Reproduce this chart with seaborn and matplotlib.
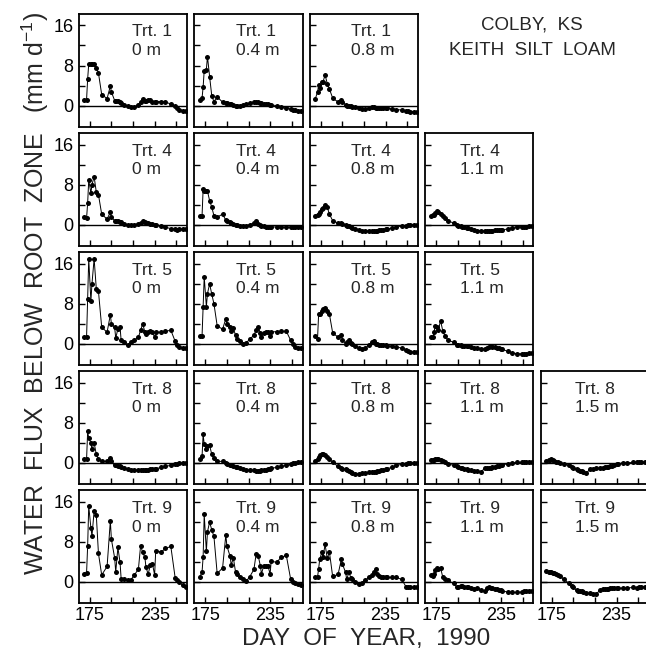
import matplotlib
matplotlib.use("Agg")
import matplotlib.pyplot as plt
import numpy as np
import pandas as pd
import seaborn as sns

# sampling days shared by all panels
DAY = [170, 172, 173, 174, 176, 177, 179, 181, 183, 186,
       191, 194, 195, 198, 199, 201, 203, 204, 207, 210,
       213, 216, 220, 222, 224, 226, 227, 229, 231, 233,
       235, 236, 241, 245, 250, 254, 256, 258, 261, 264]

# water flux (mm/d)
TRT1_0M = [1.2, 1.2, 5.3, 8.3, 8.3, 8.3, 8.3, 7.6, 6.5, 2.2,
           1.4, 3.9, 2.7, 1.0, 1.0, 0.9, 0.7, 0.5, 0.1, -0.1,
           -0.2, -0.3, 0.2, 0.7, 1.4, 1.0, 1.0, 1.2, 1.2, 0.8,
           0.8, 0.8, 0.8, 0.7, 0.3, -0.1, -0.5, -0.8, -1.0, -1.0]
TRT1_04M = [1.2, 1.5, 3.7, 7.0, 7.2, 9.8, 5.8, 1.9, 0.8, 1.7,
            0.7, 0.5, 0.5, 0.3, 0.3, 0.2, 0.0, -0.1, 0.0, 0.1,
            0.3, 0.5, 0.7, 0.8, 0.7, 0.6, 0.5, 0.4, 0.3, 0.3,
            0.2, 0.1, 0.0, -0.2, -0.4, -0.6, -0.8, -0.9, -1.0, -1.0]
TRT1_08M = [1.4, 2.7, 4.1, 3.5, 4.7, 4.7, 6.1, 4.4, 3.3, 1.5,
            0.7, 1.2, 0.8, 0.1, 0.0, -0.1, -0.1, -0.2, -0.3, -0.5,
            -0.6, -0.6, -0.5, -0.3, -0.3, -0.4, -0.5, -0.5, -0.5, -0.5,
            -0.5, -0.5, -0.6, -0.8, -0.9, -1.0, -1.1, -1.2, -1.2, -1.2]

TRT4_0M = [1.5, 1.3, 4.3, 8.9, 6.3, 8.0, 9.6, 6.5, 6.0, 2.1,
           1.1, 2.5, 1.5, 0.8, 0.8, 0.7, 0.6, 0.5, 0.2, 0.0,
           -0.1, 0.0, 0.2, 0.4, 0.7, 0.5, 0.4, 0.3, 0.2, 0.1,
           0.0, -0.1, -0.2, -0.5, -0.8, -0.9, -1.0, -0.9, -0.9, -0.8]
TRT4_04M = [1.8, 1.8, 7.1, 6.8, 6.7, 6.7, 4.8, 3.5, 1.8, 1.5,
            2.1, 0.9, 0.7, 0.5, 0.4, 0.2, 0.0, -0.1, -0.2, -0.2,
            -0.2, 0.0, 0.3, 0.7, 0.2, 0.0, -0.2, -0.3, -0.4, -0.4,
            -0.4, -0.4, -0.5, -0.5, -0.5, -0.5, -0.5, -0.5, -0.5, -0.5]
TRT4_08M = [1.8, 2.0, 2.1, 2.5, 3.1, 3.3, 4.0, 3.5, 2.1, 0.8,
            0.3, 0.3, 0.2, 0.0, -0.2, -0.3, -0.5, -0.6, -0.8, -1.0,
            -1.2, -1.2, -1.3, -1.3, -1.2, -1.2, -1.2, -1.1, -1.0, -1.0,
            -0.9, -0.9, -0.7, -0.5, -0.3, -0.2, -0.1, 0.0, 0.0, 0.0]
TRT4_11M = [1.8, 1.9, 2.0, 2.3, 2.7, 2.5, 2.1, 1.7, 1.3, 0.8,
            0.3, 0.0, -0.2, -0.3, -0.4, -0.5, -0.6, -0.7, -0.8, -1.0,
            -1.2, -1.2, -1.3, -1.3, -1.2, -1.2, -1.2, -1.1, -1.1, -1.1,
            -1.0, -1.0, -0.9, -0.6, -0.4, -0.4, -0.4, -0.4, -0.3, -0.3]

TRT5_0M = [1.3, 1.3, 9.0, 17.0, 8.5, 12.0, 17.0, 11.0, 10.5, 3.3,
           2.3, 5.8, 4.0, 3.3, 1.1, 3.0, 3.3, 0.7, 0.3, -0.2,
           0.3, 0.7, 1.3, 2.7, 4.0, 2.3, 2.0, 2.3, 2.5, 2.3,
           1.3, 2.3, 2.3, 2.5, 2.7, 0.5, -0.3, -0.7, -0.8, -0.8]
TRT5_04M = [1.6, 1.6, 7.4, 13.4, 7.4, 10.0, 12.0, 9.9, 8.0, 3.6,
            2.9, 5.0, 3.9, 3.4, 2.5, 3.1, 1.7, 0.9, 0.5, -0.1,
            0.2, 0.9, 1.7, 2.7, 3.4, 2.1, 1.4, 2.1, 2.3, 2.3,
            1.5, 2.4, 2.4, 2.5, 2.5, 0.7, -0.1, -0.6, -0.8, -0.9]
TRT5_08M = [1.6, 1.0, 5.9, 6.0, 6.5, 6.9, 7.2, 6.5, 5.9, 2.2,
            1.3, 1.8, 0.8, 0.0, 0.3, 0.8, 0.2, 0.0, -0.4, -0.8,
            -1.0, -0.8, -0.3, 0.3, 0.5, 0.0, -0.1, -0.2, -0.2, -0.3,
            -0.3, -0.4, -0.5, -0.6, -0.9, -1.2, -1.5, -1.6, -1.7, -1.7]
TRT5_11M = [1.3, 1.3, 2.3, 3.6, 3.3, 2.8, 4.6, 2.6, 1.6, 0.7,
            0.3, -0.3, -0.3, -0.3, -0.4, -0.4, -0.5, -0.5, -0.6, -0.8,
            -0.8, -1.0, -1.1, -0.9, -0.7, -0.5, -0.6, -0.7, -0.8, -0.9,
            -1.0, -1.1, -1.5, -1.8, -2.0, -2.0, -2.0, -2.0, -1.9, -1.9]

TRT8_0M = [0.7, 0.7, 6.3, 5.0, 4.0, 2.7, 4.0, 1.7, 0.8, 0.3,
           0.3, 0.9, 0.3, -0.5, -0.5, -0.7, -0.7, -0.8, -1.1, -1.3,
           -1.5, -1.5, -1.5, -1.4, -1.4, -1.4, -1.4, -1.4, -1.3, -1.3,
           -1.2, -1.2, -0.9, -0.7, -0.5, -0.3, -0.2, -0.1, 0.0, 0.0]
TRT8_04M = [0.7, 1.3, 5.7, 3.7, 2.7, 3.3, 3.5, 1.7, 0.9, 0.3,
            0.3, 0.0, -0.2, -0.4, -0.5, -0.6, -0.8, -0.9, -1.1, -1.3,
            -1.5, -1.5, -1.5, -1.6, -1.6, -1.6, -1.5, -1.5, -1.4, -1.3,
            -1.2, -1.1, -0.9, -0.7, -0.5, -0.3, -0.1, 0.0, 0.1, 0.2]
TRT8_08M = [0.3, 0.8, 1.2, 1.6, 1.8, 1.7, 1.6, 1.2, 0.8, 0.1,
            -0.7, -1.1, -1.2, -1.3, -1.5, -1.6, -1.8, -2.0, -2.2, -2.2,
            -2.1, -2.0, -1.9, -1.9, -1.8, -1.8, -1.7, -1.6, -1.5, -1.4,
            -1.3, -1.2, -0.9, -0.5, -0.3, -0.2, -0.1, -0.1, 0.0, 0.0]
TRT8_11M = [0.5, 0.5, 0.6, 0.8, 0.8, 0.7, 0.6, 0.3, 0.1, -0.2,
            -0.5, -0.7, -0.8, -1.0, -1.0, -1.2, -1.3, -1.4, -1.5, -1.6,
            -1.7, -1.8, -1.1, -1.1, -1.0, -1.0, -0.9, -0.8, -0.7, -0.6,
            -0.5, -0.4, -0.2, 0.0, 0.1, 0.1, 0.1, 0.1, 0.1, 0.1]
TRT8_15M = [0.3, 0.5, 0.6, 0.8, 0.6, 0.4, 0.2, 0.1, 0.0, -0.2,
            -0.5, -0.8, -1.0, -1.3, -1.5, -1.6, -1.7, -1.8, -2.1, -1.3,
            -1.2, -1.1, -1.1, -1.0, -0.9, -0.9, -0.8, -0.7, -0.6, -0.5,
            -0.3, -0.2, 0.0, 0.0, 0.1, 0.1, 0.1, 0.1, 0.1, 0.1]

TRT9_0M = [1.6, 1.8, 7.2, 15.2, 10.8, 9.2, 14.2, 13.4, 5.7, 1.4,
           3.1, 12.2, 8.5, 4.8, 2.0, 6.9, 3.9, 0.65, 0.5, 0.4,
           0.45, 1.3, 2.6, 7.2, 5.9, 4.9, 2.9, 1.6, 3.3, 3.6,
           1.4, 6.2, 6.0, 6.7, 7.1, 0.85, 0.3, -0.1, -0.65, -1.0]
TRT9_04M = [1.05, 2.0, 5.0, 13.5, 6.1, 10.0, 12.0, 10.4, 9.1, 1.7,
            2.8, 9.4, 7.2, 5.1, 3.4, 4.8, 2.0, 1.5, 1.0, 0.5,
            0.2, 1.0, 2.5, 5.5, 5.2, 3.2, 1.6, 3.2, 3.2, 3.2,
            1.6, 4.2, 3.9, 4.9, 5.3, 0.6, -0.1, -0.3, -0.5, -0.6]
TRT9_08M = [1.0, 1.0, 2.6, 4.5, 6.0, 4.9, 7.5, 4.7, 6.0, 1.1,
            1.5, 4.5, 3.6, 1.9, 0.5, 1.9, 0.8, 0.5, 0.0, -0.5,
            -0.2, 0.3, 1.0, 1.3, 1.9, 2.6, 1.6, 1.2, 1.0, 0.9,
            0.9, 0.9, 0.9, 0.9, 0.5, -1.0, -1.1, -1.1, -1.1, -1.1]
TRT9_11M = [1.3, 1.1, 1.6, 2.4, 2.8, 2.6, 2.8, 1.0, 0.6, 0.3,
            -0.3, -1.0, -1.0, -0.8, -0.9, -1.1, -1.1, -1.1, -1.2, -1.5,
            -1.2, -1.6, -1.9, -1.3, -1.1, -1.2, -1.3, -1.4, -1.5, -1.6,
            -1.7, -1.8, -2.0, -2.1, -2.1, -2.0, -1.9, -1.9, -1.9, -1.9]
TRT9_15M = [2.1, 2.0, 1.9, 1.9, 1.8, 1.7, 1.5, 1.3, 1.1, 0.6,
            -0.3, -0.9, -1.1, -1.7, -1.9, -1.9, -1.9, -2.1, -2.3, -2.3,
            -2.5, -2.4, -1.6, -1.5, -1.5, -1.4, -1.4, -1.3, -1.2, -1.2,
            -1.3, -1.3, -1.2, -1.2, -1.1, -1.3, -1.1, -1.0, -1.0, -0.9]

TREATMENTS = ["Trt. 1", "Trt. 4", "Trt. 5", "Trt. 8", "Trt. 9"]
DEPTHS = ["0 m", "0.4 m", "0.8 m", "1.1 m", "1.5 m"]
X_TICKS = [175, 195, 215, 235, 255]
X_TICK_LABELS = ["175", "", "", "235", ""]
Y_TICKS = [0, 4, 8, 12, 16]
Y_TICK_LABELS = ["0", "", "8", "", "16"]

PANELS = {
    (0, 0): TRT1_0M, (0, 1): TRT1_04M, (0, 2): TRT1_08M,
    (1, 0): TRT4_0M, (1, 1): TRT4_04M, (1, 2): TRT4_08M, (1, 3): TRT4_11M,
    (2, 0): TRT5_0M, (2, 1): TRT5_04M, (2, 2): TRT5_08M, (2, 3): TRT5_11M,
    (3, 0): TRT8_0M, (3, 1): TRT8_04M, (3, 2): TRT8_08M, (3, 3): TRT8_11M, (3, 4): TRT8_15M,
    (4, 0): TRT9_0M, (4, 1): TRT9_04M, (4, 2): TRT9_08M, (4, 3): TRT9_11M, (4, 4): TRT9_15M,
}

rows = []
for (r, c), vals in PANELS.items():
    for d, v in zip(DAY, vals):
        rows.append({"row": r, "col": c, "day": d, "flux": v})
df = pd.DataFrame(rows)

sns.set_theme(style="ticks")
plt.rcParams["font.family"] = ["Liberation Sans", "DejaVu Sans"]

# where the treatment label starts inside each column
LABEL_X = [0.49, 0.38, 0.377, 0.324, 0.315]

fig = plt.figure(figsize=(6.46, 6.5), dpi=100)
gs = fig.add_gridspec(5, 5, left=0.1223, right=1.0046, top=0.9785, bottom=0.0723,
                      wspace=0.069, hspace=0.058)

for (r, c), _ in PANELS.items():
    ax = fig.add_subplot(gs[r, c])
    sub = df[(df["row"] == r) & (df["col"] == c)]
    ax.axhline(0, color="black", lw=1.0, zorder=1)
    sns.lineplot(data=sub, x="day", y="flux", ax=ax, color="black", lw=0.7,
                 marker="o", markersize=3.6, markeredgewidth=0, errorbar=None,
                 zorder=2)
    ax.set_xlim(165, 265)
    ax.set_ylim(-4.2, 18.3)
    ax.set_xlabel("")
    ax.set_ylabel("")
    ax.set_xticks(X_TICKS)
    ax.set_yticks(Y_TICKS)
    if r == 4:
        ax.set_xticklabels(X_TICK_LABELS, fontsize=13)
    else:
        ax.set_xticklabels([])
    if c == 0:
        ax.set_yticklabels(Y_TICK_LABELS, fontsize=13)
    else:
        ax.set_yticklabels([])
    ax.tick_params(direction="in", length=4.5, width=1.0, color="black",
                   labelcolor="black", top=False, right=False)
    ax.tick_params(axis="x", pad=3)
    ax.tick_params(axis="y", pad=4)
    for sp in ax.spines.values():
        sp.set_visible(True)
        sp.set_linewidth(1.3)
        sp.set_color("black")
    ax.text(LABEL_X[c], 0.80, TREATMENTS[r], transform=ax.transAxes,
            ha="left", va="baseline", fontsize=12.5)
    ax.text(LABEL_X[c], 0.635, DEPTHS[c], transform=ax.transAxes,
            ha="left", va="baseline", fontsize=12.5)

fig.text(0.8235, 0.955, "COLBY,  KS", ha="center", va="baseline", fontsize=13.5)
fig.text(0.8235, 0.915, "KEITH  SILT  LOAM", ha="center", va="baseline", fontsize=13.5)

fig.text(0.054, 0.548, "WATER  FLUX  BELOW  ROOT  ZONE   (mm d$\\mathregular{^{-1}}$)",
         rotation=90, ha="center", va="center", fontsize=18)
fig.text(0.566, 0.007, "DAY  OF  YEAR,  1990", ha="center", va="baseline", fontsize=17.5)

fig.savefig("out.png", dpi=100)
